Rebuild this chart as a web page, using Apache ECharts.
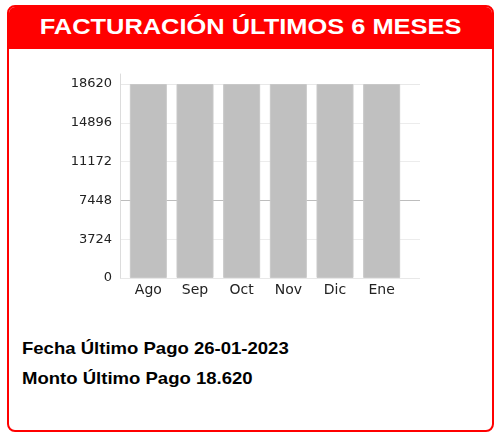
<!DOCTYPE html>
<html>
<head>
<meta charset="utf-8">
<script src="https://cdn.jsdelivr.net/npm/echarts@6/dist/echarts.min.js"></script>
<style>
html,body{margin:0;padding:0;background:#fff;width:495px;height:433px;overflow:hidden;}
#box{position:absolute;left:7px;top:5px;width:483px;height:423px;border:2px solid #ff0000;border-radius:8px;background:#fff;}
#head{position:absolute;left:0;top:0;width:100%;height:42px;background:#ff0000;border-radius:6px 6px 0 0;color:#fff;font-family:"Liberation Sans",Arial,sans-serif;font-weight:bold;font-size:22px;line-height:40px;text-align:center;}
#head span{display:inline-block;transform:scaleX(1.155);transform-origin:center;}
.info{position:absolute;left:13px;font-family:"Liberation Sans",Arial,sans-serif;font-weight:bold;font-size:17px;line-height:20px;color:#000;transform:scaleX(1.09);transform-origin:left center;white-space:nowrap;}
#chart{position:absolute;left:0;top:0;width:495px;height:433px;}
</style>
</head>
<body>
<div id="box">
  <div id="head"><span>FACTURACIÓN ÚLTIMOS 6 MESES</span></div>
  <div class="info" style="top:332px;">Fecha Último Pago 26-01-2023</div>
  <div class="info" style="top:362px;">Monto Último Pago 18.620</div>
</div>
<div id="chart"></div>
<script>
var categories = ['Ago', 'Sep', 'Oct', 'Nov', 'Dic', 'Ene'];
var values = [18620, 18620, 18620, 18620, 18620, 18620];
var yMax = 18620;
var yStep = 3724;

var chart = echarts.init(document.getElementById('chart'), null, {renderer: 'canvas'});
chart.setOption({
  animation: false,
  backgroundColor: 'transparent',
  grid: [
    {left: 125, top: 84, width: 280, height: 194},
    {left: 120, top: 84, width: 300, height: 194},
    {left: 120, top: 74, width: 300, height: 204}
  ],
  xAxis: [
    {type: 'category', gridIndex: 0, data: categories, boundaryGap: true,
     axisLine: {show: false}, axisTick: {show: false},
     axisLabel: {margin: 5, fontFamily: 'DejaVu Sans', fontSize: 14, color: '#222'}},
    {type: 'value', gridIndex: 1, show: false},
    {type: 'value', gridIndex: 2, show: false}
  ],
  yAxis: [
    {type: 'value', gridIndex: 0, min: 0, max: yMax, interval: yStep, show: false},
    {type: 'value', gridIndex: 1, min: 0, max: yMax, interval: yStep,
     axisLine: {show: false}, axisTick: {show: false},
     axisLabel: {margin: 8, fontFamily: 'DejaVu Sans', fontSize: 13, color: '#222',
                 formatter: function (v) { return String(v); }},
     splitLine: {show: true, lineStyle: {width: 1, color: ['#e8e8e8', '#ececec', '#bdbdbd', '#ececec', '#ececec', '#e8e8e8']}}},
    {type: 'value', gridIndex: 2, min: 0, max: 1, show: true,
     axisLine: {show: true, lineStyle: {color: '#dcdcdc', width: 1}},
     axisTick: {show: false}, axisLabel: {show: false}, splitLine: {show: false}}
  ],
  series: [{
    type: 'bar', xAxisIndex: 0, yAxisIndex: 0,
    data: values, barWidth: 37,
    itemStyle: {color: '#c0c0c0', borderColor: '#c8c8c8', borderWidth: 1}
  }]
});
</script>
</body>
</html>
